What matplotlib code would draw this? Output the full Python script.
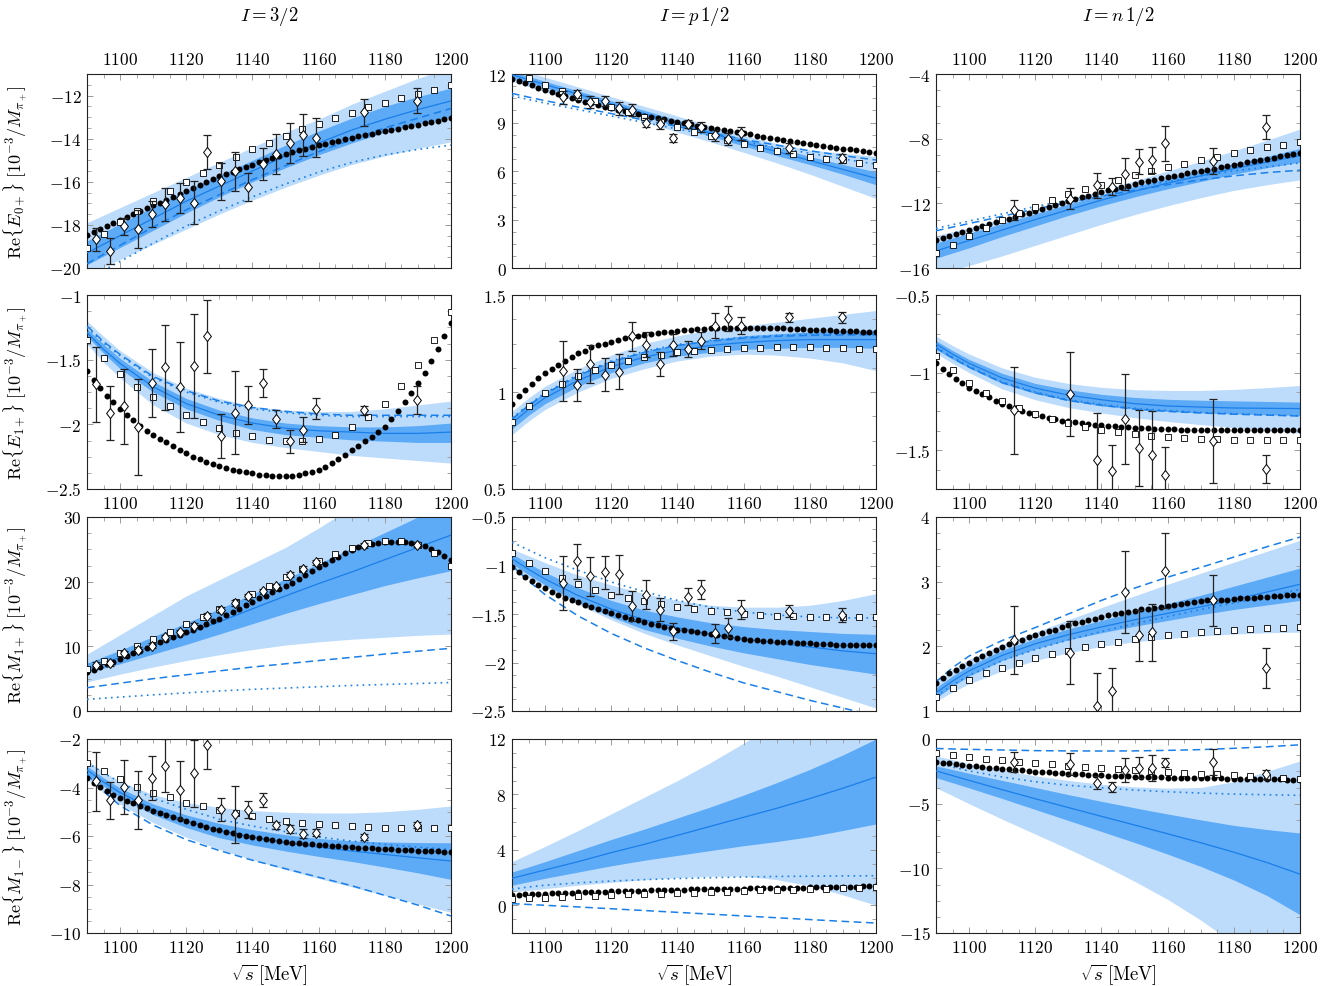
import matplotlib
matplotlib.use("Agg")
import matplotlib.pyplot as plt
import numpy as np
from matplotlib.path import Path
from matplotlib.ticker import AutoMinorLocator, FuncFormatter, MultipleLocator

plt.rcParams["mathtext.fontset"] = "cm"
plt.rcParams["font.family"] = ["DejaVu Serif"]

LIGHT = "#bddcfc"
DARK = "#5daaf7"
LINE = "#1a7fe8"

# energy grids (MeV)
X_BAND = [1090, 1095, 1100, 1110, 1120, 1130, 1140, 1150, 1160, 1170, 1180, 1190, 1200]
X_DOT = np.arange(1090, 1201, 2)
X_SQUARE = np.arange(1090, 1201, 5)
DIAMOND_E_32 = [1092.6, 1096.9, 1101.1, 1105.3, 1109.6, 1113.7, 1118.1, 1122.2, 1126.4, 1130.6,
                1134.8, 1138.8, 1143.1, 1147.0, 1151.2, 1155.2, 1159.1, 1173.8, 1189.7]
DIAMOND_E_P = [1105.3, 1109.6, 1113.7, 1118.1, 1122.2, 1126.4, 1130.6, 1134.8, 1138.8, 1143.1,
               1147.0, 1151.2, 1155.2, 1159.1, 1173.8, 1189.7]
DIAMOND_E_N = [1113.7, 1130.6, 1138.8, 1143.1, 1147.0, 1151.2, 1155.2, 1159.1, 1173.8, 1189.7]

# ---------------- Re{E0+}, I = 3/2 ----------------
E0_32_LIGHT_HI = [-17.9, -17.55, -17.2, -16.5, -15.8, -15.1, -14.4, -13.7, -13.1, -12.4, -11.8, -11.2, -10.7]
E0_32_LIGHT_LO = [-20.3, -19.95, -19.6, -18.9, -18.2, -17.5, -16.85, -16.25, -15.7, -15.2, -14.8, -14.45, -14.15]
E0_32_DARK_HI = [-18.75, -18.35, -17.95, -17.15, -16.4, -15.7, -15.0, -14.3, -13.65, -13.05, -12.5, -12.05, -11.65]
E0_32_DARK_LO = [-19.85, -19.45, -19.05, -18.25, -17.45, -16.7, -16.0, -15.35, -14.75, -14.2, -13.7, -13.3, -13.0]
E0_32_SOLID = [-19.3, -18.9, -18.5, -17.7, -16.9, -16.2, -15.5, -14.8, -14.2, -13.6, -13.1, -12.65, -12.25]
E0_32_DASHED = [-19.8, -19.37, -18.95, -18.1, -17.3, -16.6, -15.9, -15.25, -14.6, -14.05, -13.5, -13.05, -12.6]
E0_32_DOTTED = [-20.5, -20.1, -19.7, -18.85, -18.05, -17.35, -16.7, -16.1, -15.55, -15.1, -14.75, -14.5, -14.3]
E0_32_DOTS = [-18.48, -18.33, -18.19, -18.04, -17.90, -17.75, -17.62, -17.49, -17.36, -17.23,
              -17.10, -16.97, -16.84, -16.71, -16.58, -16.45, -16.31, -16.17, -16.03, -15.89,
              -15.75, -15.64, -15.53, -15.42, -15.31, -15.20, -15.10, -15.00, -14.90, -14.80,
              -14.70, -14.62, -14.54, -14.46, -14.38, -14.30, -14.23, -14.16, -14.09, -14.02,
              -13.95, -13.89, -13.83, -13.77, -13.71, -13.65, -13.59, -13.53, -13.47, -13.41,
              -13.35, -13.29, -13.23, -13.17, -13.11, -13.05]
E0_32_SQUARES = [-19.06, -18.43, -17.86, -17.37, -16.88, -16.41, -15.99, -15.58, -15.21, -14.85,
                 -14.49, -14.18, -13.87, -13.57, -13.31, -13.03, -12.81, -12.55, -12.33, -12.12,
                 -11.91, -11.72, -11.53]
E0_32_DIAMOND = [-18.67, -19.23, -18.07, -18.2, -17.48, -17.05, -16.77, -16.98, -14.63, -15.97,
                 -15.52, -16.24, -15.18, -14.71, -14.21, -13.84, -13.95, -12.78, -12.25]
E0_32_ERR = [0.52, 0.6, 0.41, 0.89, 0.6, 0.78, 0.7, 1.0, 0.8, 0.86,
             0.89, 0.63, 0.74, 0.94, 0.94, 0.97, 0.91, 0.62, 0.58]

# ---------------- Re{E0+}, I = p 1/2 ----------------
E0_P_LIGHT_HI = [12.4, 12.1, 11.8, 11.2, 10.6, 10.0, 9.4, 8.8, 8.2, 7.7, 7.3, 7.1, 6.9]
E0_P_LIGHT_LO = [11.55, 11.22, 10.9, 10.3, 9.7, 9.05, 8.4, 7.8, 7.15, 6.5, 5.8, 5.05, 4.3]
E0_P_DARK_HI = [12.15, 11.85, 11.55, 10.95, 10.35, 9.75, 9.15, 8.55, 8.0, 7.45, 6.9, 6.4, 5.95]
E0_P_DARK_LO = [11.75, 11.45, 11.15, 10.55, 9.95, 9.35, 8.75, 8.15, 7.55, 6.95, 6.4, 5.8, 5.15]
E0_P_SOLID = [11.95, 11.65, 11.35, 10.75, 10.15, 9.55, 8.95, 8.35, 7.75, 7.2, 6.65, 6.1, 5.55]
E0_P_DASHED = [10.8, 10.57, 10.35, 9.95, 9.55, 9.15, 8.75, 8.35, 7.95, 7.6, 7.25, 6.95, 6.68]
E0_P_DOTTED = [10.65, 10.42, 10.2, 9.8, 9.4, 9.0, 8.6, 8.2, 7.82, 7.45, 7.1, 6.75, 6.42]
E0_P_DOTS = [11.69, 11.56, 11.43, 11.29, 11.16, 11.03, 10.90, 10.77, 10.65, 10.52,
             10.39, 10.28, 10.18, 10.08, 9.97, 9.87, 9.78, 9.69, 9.59, 9.50,
             9.41, 9.34, 9.26, 9.19, 9.11, 9.04, 8.96, 8.88, 8.81, 8.73,
             8.65, 8.58, 8.52, 8.45, 8.39, 8.32, 8.26, 8.19, 8.13, 8.06,
             8.00, 7.93, 7.86, 7.80, 7.73, 7.66, 7.61, 7.55, 7.50, 7.44,
             7.39, 7.34, 7.29, 7.24, 7.19, 7.14]
E0_P_SQUARES = [np.nan, 11.73, 11.32, 10.92, 10.6, 10.3, 9.97, 9.68, 9.37, 9.07,
                8.75, 8.44, 8.17, 7.9, 7.66, 7.45, 7.24, 7.08, 6.89, 6.77,
                6.65, 6.52, 6.39]
E0_P_DIAMOND = [10.55, 10.76, 10.28, 10.35, 9.87, 9.77, 9.0, 8.9, 8.03, 8.9,
                8.73, 8.21, 7.97, 8.34, 7.41, 6.79]
E0_P_ERR = [0.41, 0.25, 0.36, 0.3, 0.41, 0.35, 0.3, 0.31, 0.26, 0.26,
            0.33, 0.34, 0.39, 0.41, 0.31, 0.28]

# ---------------- Re{E0+}, I = n 1/2 ----------------
E0_N_LIGHT_HI = [-14.0, -13.75, -13.5, -12.95, -12.35, -11.75, -11.2, -10.6, -10.0, -9.4, -8.75, -8.1, -7.4]
E0_N_LIGHT_LO = [-16.4, -16.12, -15.85, -15.25, -14.6, -13.95, -13.3, -12.7, -12.15, -11.65, -11.2, -10.85, -10.55]
E0_N_DARK_HI = [-14.45, -14.15, -13.85, -13.25, -12.65, -12.05, -11.5, -10.95, -10.45, -10.0, -9.55, -9.1, -8.6]
E0_N_DARK_LO = [-15.4, -15.07, -14.75, -14.05, -13.4, -12.75, -12.15, -11.6, -11.1, -10.65, -10.2, -9.8, -9.45]
E0_N_SOLID = [-14.95, -14.62, -14.3, -13.65, -13.0, -12.4, -11.8, -11.25, -10.75, -10.3, -9.85, -9.45, -9.05]
E0_N_DASHED = [-13.7, -13.47, -13.25, -12.8, -12.35, -11.95, -11.55, -11.2, -10.85, -10.55, -10.3, -10.1, -9.95]
E0_N_DOTTED = [-13.55, -13.32, -13.1, -12.65, -12.2, -11.8, -11.4, -11.0, -10.65, -10.3, -10.0, -9.75, -9.5]
E0_N_DOTS = [-14.24, -14.12, -14.01, -13.89, -13.78, -13.66, -13.54, -13.42, -13.30, -13.18,
             -13.06, -12.94, -12.82, -12.69, -12.57, -12.45, -12.33, -12.21, -12.09, -11.97,
             -11.85, -11.74, -11.63, -11.52, -11.41, -11.30, -11.20, -11.10, -11.00, -10.90,
             -10.80, -10.71, -10.63, -10.54, -10.46, -10.37, -10.30, -10.22, -10.15, -10.07,
             -10.00, -9.92, -9.85, -9.77, -9.70, -9.62, -9.55, -9.47, -9.40, -9.32,
             -9.25, -9.18, -9.10, -9.03, -8.95, -8.88]
E0_N_SQUARES = [-15.07, -14.55, -14.03, -13.52, -13.06, -12.59, -12.21, -11.82, -11.45, -11.14,
                -10.85, -10.54, -10.27, -10.0, -9.75, -9.55, -9.32, -9.11, -8.9, -8.7,
                -8.51, -8.37, -8.18]
E0_N_DIAMOND = [-12.44, -11.72, -10.89, -10.97, -10.2, -9.42, -9.32, -8.28, -9.38, -7.27]
E0_N_ERR = [0.62, 0.65, 0.75, 0.54, 0.98, 0.78, 0.83, 1.09, 0.8, 0.72]

# ---------------- Re{E1+}, I = 3/2 ----------------
E1_32_LIGHT_HI = [-1.2, -1.32, -1.43, -1.6, -1.72, -1.8, -1.86, -1.89, -1.9, -1.9, -1.88, -1.85, -1.82]
E1_32_LIGHT_LO = [-1.38, -1.52, -1.64, -1.85, -1.99, -2.08, -2.14, -2.18, -2.21, -2.24, -2.26, -2.28, -2.3]
E1_32_DARK_HI = [-1.26, -1.38, -1.49, -1.67, -1.8, -1.89, -1.95, -1.99, -2.01, -2.02, -2.02, -2.01, -1.99]
E1_32_DARK_LO = [-1.32, -1.45, -1.57, -1.75, -1.88, -1.97, -2.04, -2.08, -2.1, -2.12, -2.13, -2.14, -2.14]
E1_32_SOLID = [-1.29, -1.42, -1.53, -1.71, -1.84, -1.93, -1.99, -2.03, -2.05, -2.06, -2.07, -2.07, -2.06]
E1_32_DASHED = [-1.24, -1.36, -1.46, -1.63, -1.74, -1.82, -1.87, -1.9, -1.92, -1.93, -1.93, -1.93, -1.93]
E1_32_DOTTED = [-1.25, -1.37, -1.47, -1.64, -1.75, -1.83, -1.88, -1.91, -1.93, -1.94, -1.94, -1.94, -1.94]
E1_32_DOTS = [-1.59, -1.66, -1.72, -1.78, -1.83, -1.88, -1.93, -1.97, -2.01, -2.05,
              -2.08, -2.11, -2.14, -2.17, -2.20, -2.22, -2.25, -2.27, -2.29, -2.31,
              -2.32, -2.34, -2.35, -2.36, -2.37, -2.38, -2.39, -2.39, -2.40, -2.40,
              -2.40, -2.40, -2.39, -2.38, -2.37, -2.35, -2.33, -2.30, -2.27, -2.24,
              -2.20, -2.17, -2.13, -2.10, -2.06, -2.02, -1.96, -1.90, -1.83, -1.76,
              -1.68, -1.60, -1.51, -1.42, -1.32, -1.22]
E1_32_SQUARES = [-1.35, -1.49, -1.61, -1.71, -1.79, -1.86, -1.93, -1.98, -2.03, -2.07,
                 -2.09, -2.12, -2.13, -2.13, -2.11, -2.08, -2.02, -1.94, -1.84, -1.7,
                 -1.54, -1.35, -1.13]
E1_32_DIAMOND = [-1.69, -1.91, -1.86, -2.02, -1.68, -1.56, -1.71, -1.55, -1.32, -2.09,
                 -1.91, -1.85, -1.68, -1.96, -2.13, -2.04, -1.88, -1.89, -1.81]
E1_32_ERR = [0.29, 0.21, 0.29, 0.37, 0.26, 0.33, 0.35, 0.4, 0.28, 0.17,
             0.32, 0.15, 0.11, 0.07, 0.09, 0.1, 0.08, 0.035, 0.11]

# ---------------- Re{E1+}, I = p 1/2 ----------------
E1_P_LIGHT_HI = [0.9, 0.97, 1.03, 1.12, 1.19, 1.25, 1.29, 1.32, 1.34, 1.36, 1.38, 1.4, 1.42]
E1_P_LIGHT_LO = [0.78, 0.85, 0.91, 1.0, 1.07, 1.12, 1.16, 1.185, 1.195, 1.19, 1.175, 1.15, 1.11]
E1_P_DARK_HI = [0.87, 0.94, 1.0, 1.09, 1.16, 1.21, 1.245, 1.27, 1.29, 1.3, 1.31, 1.315, 1.32]
E1_P_DARK_LO = [0.81, 0.88, 0.94, 1.03, 1.1, 1.15, 1.185, 1.205, 1.22, 1.225, 1.23, 1.23, 1.225]
E1_P_SOLID = [0.84, 0.91, 0.97, 1.06, 1.13, 1.18, 1.215, 1.24, 1.255, 1.265, 1.27, 1.27, 1.27]
E1_P_DASHED = [0.86, 0.93, 0.99, 1.085, 1.155, 1.205, 1.24, 1.262, 1.277, 1.287, 1.292, 1.294, 1.295]
E1_P_DOTTED = [0.865, 0.935, 0.995, 1.09, 1.16, 1.21, 1.245, 1.267, 1.282, 1.292, 1.297, 1.299, 1.3]
E1_P_DOTS = [0.94, 0.98, 1.01, 1.04, 1.07, 1.10, 1.12, 1.14, 1.16, 1.18,
             1.20, 1.21, 1.23, 1.24, 1.25, 1.26, 1.27, 1.28, 1.285, 1.29,
             1.295, 1.30, 1.305, 1.31, 1.31, 1.315, 1.32, 1.32, 1.325, 1.325,
             1.33, 1.33, 1.33, 1.33, 1.33, 1.33, 1.33, 1.33, 1.33, 1.33,
             1.33, 1.33, 1.325, 1.325, 1.325, 1.32, 1.32, 1.32, 1.32, 1.315,
             1.315, 1.315, 1.315, 1.31, 1.31, 1.31]
E1_P_SQUARES = [0.847, 0.93, 0.993, 1.04, 1.08, 1.115, 1.14, 1.16, 1.18, 1.19,
                1.205, 1.21, 1.218, 1.22, 1.225, 1.228, 1.23, 1.23, 1.23, 1.228,
                1.227, 1.223, 1.22]
E1_P_DIAMOND = [1.11, 1.038, 1.144, 1.09, 1.105, 1.287, 1.244, 1.144, 1.244, 1.222,
                1.265, 1.342, 1.38, 1.342, 1.385, 1.385]
E1_P_ERR = [0.155, 0.083, 0.098, 0.084, 0.09, 0.076, 0.064, 0.064, 0.057, 0.043,
            0.043, 0.064, 0.063, 0.043, 0.022, 0.029]

# ---------------- Re{E1+}, I = n 1/2 ----------------
E1_N_LIGHT_HI = [-0.765, -0.826, -0.88, -0.97, -1.03, -1.07, -1.095, -1.11, -1.115, -1.115, -1.108, -1.097, -1.083]
E1_N_LIGHT_LO = [-0.875, -0.94, -1.0, -1.105, -1.175, -1.225, -1.26, -1.29, -1.315, -1.335, -1.355, -1.372, -1.39]
E1_N_DARK_HI = [-0.795, -0.858, -0.915, -1.005, -1.07, -1.11, -1.14, -1.16, -1.172, -1.178, -1.182, -1.186, -1.19]
E1_N_DARK_LO = [-0.85, -0.913, -0.97, -1.07, -1.135, -1.18, -1.215, -1.235, -1.25, -1.26, -1.266, -1.272, -1.276]
E1_N_SOLID = [-0.815, -0.881, -0.94, -1.035, -1.1, -1.145, -1.175, -1.2, -1.215, -1.222, -1.228, -1.23, -1.232]
E1_N_DASHED = [-0.84, -0.906, -0.965, -1.065, -1.13, -1.18, -1.21, -1.235, -1.25, -1.26, -1.268, -1.274, -1.28]
E1_N_DOTTED = [-0.835, -0.901, -0.96, -1.06, -1.125, -1.175, -1.205, -1.23, -1.245, -1.256, -1.265, -1.272, -1.278]
E1_N_DOTS = [-0.94, -0.975, -1.01, -1.04, -1.07, -1.10, -1.12, -1.14, -1.16, -1.18,
             -1.20, -1.215, -1.23, -1.245, -1.26, -1.27, -1.28, -1.29, -1.30, -1.31,
             -1.315, -1.32, -1.325, -1.33, -1.335, -1.34, -1.343, -1.346, -1.349, -1.352,
             -1.355, -1.357, -1.359, -1.361, -1.363, -1.365, -1.366, -1.367, -1.368, -1.369,
             -1.37, -1.37, -1.37, -1.37, -1.37, -1.37, -1.37, -1.37, -1.37, -1.37,
             -1.37, -1.369, -1.369, -1.368, -1.368, -1.367]
E1_N_SQUARES = [-0.894, -0.986, -1.067, -1.13, -1.185, -1.228, -1.267, -1.3, -1.327, -1.35,
                -1.367, -1.382, -1.395, -1.406, -1.414, -1.423, -1.427, -1.431, -1.434, -1.436,
                -1.436, -1.436, -1.436]
E1_N_DIAMOND = [-1.243, -1.14, -1.56, -1.635, -1.297, -1.485, -1.528, -1.66, -1.442, -1.622]
E1_N_ERR = [0.28, 0.27, 0.3, 0.17, 0.29, 0.245, 0.28, 0.18, 0.27, 0.09]

# ---------------- Re{M1+}, I = 3/2 ----------------
M1P_32_LIGHT_HI = [8.8, 10.3, 11.8, 14.8, 17.8, 20.3, 22.8, 25.3, 28.3, 31.5, 35.0, 38.0, 41.0]
M1P_32_LIGHT_LO = [4.5, 5.1, 5.7, 6.8, 7.8, 8.7, 9.5, 10.2, 10.7, 11.1, 11.4, 11.7, 11.9]
M1P_32_DARK_HI = [7.4, 8.4, 9.4, 11.5, 13.6, 15.8, 18.1, 20.4, 22.8, 25.2, 27.6, 30.0, 32.5]
M1P_32_DARK_LO = [5.9, 6.6, 7.3, 8.8, 10.3, 11.9, 13.5, 15.1, 16.6, 18.0, 19.4, 20.6, 21.7]
M1P_32_SOLID = [6.5, 7.4, 8.3, 10.1, 11.9, 13.8, 15.8, 17.8, 19.7, 21.5, 23.4, 25.3, 27.2]
M1P_32_DASHED = [3.6, 3.95, 4.3, 5.0, 5.6, 6.2, 6.8, 7.3, 7.8, 8.3, 8.8, 9.25, 9.7]
M1P_32_DOTTED = [1.8, 1.98, 2.15, 2.5, 2.8, 3.1, 3.35, 3.55, 3.75, 3.95, 4.1, 4.25, 4.4]
M1P_32_DOTS = [6.05, 6.40, 6.80, 7.20, 7.65, 8.10, 8.50, 8.90, 9.35, 9.80,
               10.20, 10.60, 11.00, 11.40, 11.80, 12.20, 12.60, 13.00, 13.40, 13.85,
               14.30, 14.80, 15.30, 15.85, 16.35, 16.90, 17.40, 17.85, 18.35, 18.80,
               19.30, 19.85, 20.45, 21.00, 21.60, 22.20, 22.75, 23.30, 23.85, 24.40,
               24.90, 25.30, 25.60, 25.85, 26.00, 26.10, 26.20, 26.20, 26.15, 26.00,
               25.80, 25.50, 25.10, 24.60, 24.00, 23.40]
M1P_32_SQUARES = [6.57, 7.66, 8.9, 10.09, 11.12, 12.26, 13.4, 14.54, 15.78, 16.92,
                  18.1, 19.4, 20.7, 22.0, 23.18, 24.3, 25.2, 26.0, 26.3, 26.3,
                  25.7, 24.5, 22.5]
M1P_32_DIAMOND = [7.14, 7.35, 8.9, 9.47, 10.1, 11.4, 12.16, 13.2, 14.74, 15.62,
                  16.7, 17.74, 18.52, 19.3, 21.06, 22.0, 23.0, 25.6, 25.7]
M1P_32_ERR = [0.4, 0.4, 0.4, 0.4, 0.4, 0.4, 0.4, 0.4, 0.4, 0.4,
              0.4, 0.4, 0.4, 0.4, 0.4, 0.4, 0.4, 0.4, 0.4]

# ---------------- Re{M1+}, I = p 1/2 ----------------
M1P_P_LIGHT_HI = [-0.83, -0.9, -0.97, -1.1, -1.2, -1.29, -1.36, -1.41, -1.43, -1.43, -1.41, -1.36, -1.29]
M1P_P_LIGHT_LO = [-1.03, -1.127, -1.22, -1.4, -1.56, -1.7, -1.82, -1.93, -2.04, -2.14, -2.25, -2.36, -2.47]
M1P_P_DARK_HI = [-0.88, -0.979, -1.07, -1.23, -1.36, -1.46, -1.53, -1.59, -1.63, -1.66, -1.68, -1.7, -1.71]
M1P_P_DARK_LO = [-0.98, -1.095, -1.2, -1.38, -1.53, -1.66, -1.75, -1.83, -1.9, -1.96, -2.02, -2.07, -2.12]
M1P_P_SOLID = [-0.93, -1.04, -1.14, -1.31, -1.45, -1.56, -1.64, -1.71, -1.76, -1.8, -1.84, -1.88, -1.91]
M1P_P_DASHED = [-1.0, -1.16, -1.3, -1.52, -1.7, -1.85, -1.98, -2.1, -2.21, -2.3, -2.39, -2.47, -2.55]
M1P_P_DOTTED = [-0.76, -0.84, -0.92, -1.05, -1.17, -1.27, -1.36, -1.43, -1.48, -1.51, -1.53, -1.54, -1.54]
M1P_P_DOTS = [-1.02, -1.07, -1.12, -1.16, -1.20, -1.23, -1.27, -1.30, -1.33, -1.36,
              -1.38, -1.41, -1.43, -1.45, -1.47, -1.49, -1.51, -1.53, -1.55, -1.56,
              -1.58, -1.60, -1.61, -1.63, -1.64, -1.66, -1.67, -1.68, -1.69, -1.70,
              -1.71, -1.72, -1.73, -1.74, -1.75, -1.76, -1.765, -1.77, -1.775, -1.78,
              -1.785, -1.79, -1.79, -1.795, -1.80, -1.80, -1.805, -1.81, -1.81, -1.815,
              -1.815, -1.82, -1.82, -1.82, -1.82, -1.82]
M1P_P_SQUARES = [-0.87, -0.97, -1.06, -1.13, -1.19, -1.25, -1.3, -1.34, -1.37, -1.4,
                 -1.43, -1.45, -1.47, -1.48, -1.5, -1.51, -1.52, -1.52, -1.53, -1.53,
                 -1.53, -1.53, -1.53]
M1P_P_DIAMOND = [-1.18, -0.955, -1.11, -1.07, -1.09, -1.42, -1.3, -1.455, -1.68, -1.32,
                 -1.25, -1.7, -1.64, -1.455, -1.47, -1.51]
M1P_P_ERR = [0.28, 0.18, 0.2, 0.17, 0.2, 0.155, 0.15, 0.115, 0.09, 0.09,
             0.1, 0.1, 0.1, 0.1, 0.06, 0.075]

# ---------------- Re{M1+}, I = n 1/2 ----------------
M1P_N_LIGHT_HI = [1.44, 1.64, 1.8, 2.03, 2.22, 2.41, 2.6, 2.78, 2.96, 3.13, 3.3, 3.47, 3.64]
M1P_N_LIGHT_LO = [1.15, 1.294, 1.42, 1.62, 1.78, 1.9, 2.0, 2.07, 2.12, 2.16, 2.19, 2.21, 2.22]
M1P_N_DARK_HI = [1.36, 1.543, 1.7, 1.94, 2.12, 2.27, 2.4, 2.53, 2.66, 2.79, 2.93, 3.07, 3.21]
M1P_N_DARK_LO = [1.2, 1.383, 1.54, 1.78, 1.96, 2.1, 2.21, 2.31, 2.4, 2.49, 2.57, 2.64, 2.71]
M1P_N_SOLID = [1.28, 1.463, 1.62, 1.86, 2.04, 2.18, 2.3, 2.41, 2.51, 2.61, 2.72, 2.84, 2.96]
M1P_N_DASHED = [1.45, 1.67, 1.85, 2.09, 2.29, 2.5, 2.71, 2.9, 3.07, 3.22, 3.38, 3.54, 3.69]
M1P_N_DOTTED = [1.23, 1.4, 1.55, 1.78, 1.95, 2.1, 2.23, 2.35, 2.46, 2.57, 2.67, 2.77, 2.88]
M1P_N_DOTS = [1.44, 1.51, 1.58, 1.64, 1.70, 1.75, 1.80, 1.85, 1.90, 1.95,
              1.99, 2.03, 2.07, 2.10, 2.14, 2.17, 2.20, 2.23, 2.26, 2.30,
              2.33, 2.36, 2.38, 2.41, 2.43, 2.46, 2.48, 2.50, 2.52, 2.53,
              2.55, 2.57, 2.58, 2.60, 2.61, 2.63, 2.64, 2.66, 2.67, 2.69,
              2.70, 2.71, 2.71, 2.72, 2.72, 2.73, 2.74, 2.75, 2.75, 2.76,
              2.77, 2.78, 2.78, 2.79, 2.79, 2.80]
M1P_N_SQUARES = [1.21, 1.35, 1.48, 1.58, 1.67, 1.75, 1.82, 1.88, 1.93, 1.99,
                 2.03, 2.07, 2.11, 2.14, 2.17, 2.19, 2.22, 2.23, 2.25, 2.27,
                 2.28, 2.29, 2.3]
M1P_N_DIAMOND = [2.1, 1.9, 1.08, 1.31, 2.84, 2.17, 2.22, 3.17, 2.71, 1.66]
M1P_N_ERR = [0.53, 0.49, 0.5, 0.35, 0.63, 0.39, 0.44, 0.58, 0.39, 0.31]

# ---------------- Re{M1-}, I = 3/2 ----------------
M1M_32_LIGHT_HI = [-2.9, -3.36, -3.75, -4.3, -4.62, -4.82, -4.95, -5.02, -5.05, -5.05, -5.0, -4.9, -4.76]
M1M_32_LIGHT_LO = [-3.66, -4.21, -4.69, -5.45, -6.05, -6.55, -6.98, -7.38, -7.75, -8.1, -8.45, -8.8, -9.15]
M1M_32_DARK_HI = [-3.12, -3.6, -4.02, -4.68, -5.13, -5.48, -5.74, -5.95, -6.1, -6.2, -6.25, -6.27, -6.28]
M1M_32_DARK_LO = [-3.45, -3.95, -4.4, -5.12, -5.65, -6.07, -6.37, -6.62, -6.84, -7.05, -7.28, -7.52, -7.79]
M1M_32_SOLID = [-3.28, -3.775, -4.21, -4.9, -5.38, -5.77, -6.04, -6.28, -6.46, -6.62, -6.76, -6.9, -7.03]
M1M_32_DASHED = [-3.45, -4.16, -4.75, -5.55, -6.15, -6.6, -7.0, -7.35, -7.7, -8.05, -8.45, -8.85, -9.3]
M1M_32_DOTTED = [-2.97, -3.4, -3.79, -4.44, -4.9, -5.31, -5.59, -5.82, -6.04, -6.21, -6.34, -6.46, -6.55]
M1M_32_DOTS = [-3.61, -3.82, -3.99, -4.14, -4.29, -4.42, -4.54, -4.65, -4.76, -4.86,
               -4.96, -5.05, -5.14, -5.22, -5.30, -5.38, -5.46, -5.54, -5.62, -5.70,
               -5.77, -5.83, -5.89, -5.95, -6.01, -6.06, -6.10, -6.14, -6.18, -6.22,
               -6.26, -6.28, -6.30, -6.33, -6.35, -6.37, -6.39, -6.41, -6.43, -6.45,
               -6.47, -6.48, -6.50, -6.51, -6.53, -6.54, -6.55, -6.56, -6.58, -6.59,
               -6.60, -6.61, -6.62, -6.63, -6.64, -6.65]
M1M_32_SQUARES = [-2.97, -3.34, -3.66, -3.97, -4.21, -4.41, -4.62, -4.77, -4.94, -5.06,
                  -5.17, -5.28, -5.38, -5.45, -5.52, -5.56, -5.6, -5.63, -5.66, -5.66,
                  -5.66, -5.67, -5.67]
M1M_32_DIAMOND = [-3.75, -4.52, -3.97, -4.52, -3.61, -3.1, -4.11, -3.42, -2.25, -4.9,
                  -5.1, -4.91, -4.52, -5.56, -5.7, -5.9, -5.86, -6.04, -5.56]
M1M_32_ERR = [1.2, 0.76, 1.12, 1.2, 0.9, 1.1, 1.2, 1.38, 1.0, 0.48,
              1.17, 0.34, 0.3, 0.15, 0.17, 0.17, 0.14, 0.14, 0.12]

# ---------------- Re{M1-}, I = p 1/2 ----------------
M1M_P_LIGHT_HI = [3.15, 3.7, 4.25, 5.4, 6.6, 7.8, 9.0, 10.3, 11.7, 13.2, 14.8, 16.5, 18.3]
M1M_P_LIGHT_LO = [0.97, 1.08, 1.2, 1.45, 1.65, 1.85, 2.0, 2.1, 2.1, 1.85, 1.4, 0.75, 0.0]
M1M_P_DARK_HI = [2.4, 2.77, 3.15, 3.95, 4.75, 5.5, 6.3, 7.1, 7.95, 8.85, 9.8, 10.85, 12.0]
M1M_P_DARK_LO = [1.45, 1.7, 1.95, 2.4, 2.85, 3.25, 3.6, 3.95, 4.3, 4.6, 4.95, 5.4, 5.87]
M1M_P_SOLID = [1.95, 2.25, 2.55, 3.15, 3.8, 4.4, 5.05, 5.7, 6.35, 7.0, 7.7, 8.45, 9.25]
M1M_P_DASHED = [0.12, 0.06, 0.0, -0.12, -0.25, -0.38, -0.51, -0.64, -0.77, -0.9, -1.03, -1.16, -1.28]
M1M_P_DOTTED = [1.16, 1.32, 1.45, 1.62, 1.75, 1.85, 1.93, 1.99, 2.04, 2.08, 2.1, 2.12, 2.13]
M1M_P_DOTS = [0.73, 0.76, 0.78, 0.80, 0.83, 0.85, 0.87, 0.88, 0.90, 0.91,
              0.93, 0.94, 0.96, 0.97, 0.99, 1.00, 1.01, 1.02, 1.04, 1.05,
              1.06, 1.07, 1.08, 1.10, 1.11, 1.12, 1.13, 1.14, 1.15, 1.16,
              1.17, 1.18, 1.19, 1.19, 1.20, 1.21, 1.22, 1.23, 1.23, 1.24,
              1.25, 1.26, 1.27, 1.27, 1.28, 1.29, 1.30, 1.31, 1.31, 1.32,
              1.33, 1.34, 1.35, 1.36, 1.37, 1.38]
M1M_P_SQUARES = [0.44, 0.53, 0.56, 0.58, 0.68, 0.68, 0.75, 0.78, 0.82, 0.85,
                 0.9, 0.92, 0.97, 0.99, 1.02, 1.07, 1.09, 1.12, 1.16, 1.19,
                 1.24, 1.26, 1.31]

# ---------------- Re{M1-}, I = n 1/2 ----------------
M1M_N_LIGHT_HI = [-1.3, -1.6, -1.9, -2.4, -2.85, -3.2, -3.5, -3.7, -3.8, -3.75, -3.3, -2.5, -1.7]
M1M_N_LIGHT_LO = [-3.77, -4.38, -5.0, -6.2, -7.35, -8.5, -9.7, -11.0, -12.4, -14.0, -15.8, -17.7, -19.6]
M1M_N_DARK_HI = [-2.08, -2.36, -2.65, -3.2, -3.75, -4.3, -4.82, -5.32, -5.8, -6.25, -6.68, -7.0, -7.27]
M1M_N_DARK_LO = [-2.99, -3.38, -3.78, -4.6, -5.45, -6.3, -7.15, -8.0, -8.9, -9.85, -10.9, -12.1, -13.58]
M1M_N_SOLID = [-2.47, -2.83, -3.2, -3.92, -4.62, -5.3, -5.98, -6.65, -7.33, -8.02, -8.75, -9.55, -10.45]
M1M_N_DASHED = [-0.73, -0.77, -0.8, -0.85, -0.9, -0.92, -0.93, -0.92, -0.88, -0.82, -0.72, -0.6, -0.45]
M1M_N_DOTTED = [-1.82, -2.17, -2.47, -2.94, -3.3, -3.58, -3.77, -3.95, -4.08, -4.18, -4.26, -4.31, -4.36]
M1M_N_DOTS = [-1.74, -1.82, -1.89, -1.96, -2.02, -2.08, -2.12, -2.16, -2.21, -2.25,
              -2.29, -2.34, -2.38, -2.43, -2.47, -2.52, -2.55, -2.58, -2.62, -2.65,
              -2.68, -2.71, -2.73, -2.76, -2.78, -2.81, -2.83, -2.85, -2.87, -2.89,
              -2.91, -2.93, -2.94, -2.96, -2.97, -2.99, -3.00, -3.01, -3.02, -3.03,
              -3.04, -3.04, -3.05, -3.05, -3.06, -3.06, -3.07, -3.08, -3.09, -3.10,
              -3.11, -3.12, -3.13, -3.14, -3.15, -3.16]
M1M_N_SQUARES = [-1.09, -1.25, -1.38, -1.51, -1.64, -1.74, -1.87, -1.97, -2.05, -2.13,
                 -2.21, -2.29, -2.36, -2.45, -2.55, -2.62, -2.68, -2.73, -2.81, -2.88,
                 -2.94, -3.04, -3.12]
M1M_N_DIAMOND = [-1.77, -1.9, -3.38, -3.71, -2.39, -2.21, -2.26, -1.82, -1.77, -2.73]
M1M_N_ERR = [0.8, 0.85, 0.5, 0.42, 0.9, 0.83, 1.0, 0.36, 1.0, 0.33]

COLUMN_TITLES = [r"$I = 3/2$", r"$I = p\,1/2$", r"$I = n\,1/2$"]
ROW_LABELS = [r"$\mathrm{Re}\{E_{0+}\}\;[10^{-3}/M_{\pi_+}]$",
              r"$\mathrm{Re}\{E_{1+}\}\;[10^{-3}/M_{\pi_+}]$",
              r"$\mathrm{Re}\{M_{1+}\}\;[10^{-3}/M_{\pi_+}]$",
              r"$\mathrm{Re}\{M_{1-}\}\;[10^{-3}/M_{\pi_+}]$"]


def panel(light_lo, light_hi, dark_lo, dark_hi, solid, dashed, dotted, dots, squares,
          ylim, ystep, diamond_e=None, diamond=None, err=None):
    return dict(light=(light_lo, light_hi), dark=(dark_lo, dark_hi), solid=solid, dashed=dashed,
                dotted=dotted, dots=dots, squares=squares, ylim=ylim, ystep=ystep,
                diamond_e=diamond_e, diamond=diamond, err=err)


PANELS = [
    [panel(E0_32_LIGHT_LO, E0_32_LIGHT_HI, E0_32_DARK_LO, E0_32_DARK_HI, E0_32_SOLID, E0_32_DASHED,
           E0_32_DOTTED, E0_32_DOTS, E0_32_SQUARES, (-20, -11), 2, DIAMOND_E_32, E0_32_DIAMOND, E0_32_ERR),
     panel(E0_P_LIGHT_LO, E0_P_LIGHT_HI, E0_P_DARK_LO, E0_P_DARK_HI, E0_P_SOLID, E0_P_DASHED,
           E0_P_DOTTED, E0_P_DOTS, E0_P_SQUARES, (0, 12), 3, DIAMOND_E_P, E0_P_DIAMOND, E0_P_ERR),
     panel(E0_N_LIGHT_LO, E0_N_LIGHT_HI, E0_N_DARK_LO, E0_N_DARK_HI, E0_N_SOLID, E0_N_DASHED,
           E0_N_DOTTED, E0_N_DOTS, E0_N_SQUARES, (-16, -4), 4, DIAMOND_E_N, E0_N_DIAMOND, E0_N_ERR)],
    [panel(E1_32_LIGHT_LO, E1_32_LIGHT_HI, E1_32_DARK_LO, E1_32_DARK_HI, E1_32_SOLID, E1_32_DASHED,
           E1_32_DOTTED, E1_32_DOTS, E1_32_SQUARES, (-2.5, -1), 0.5, DIAMOND_E_32, E1_32_DIAMOND, E1_32_ERR),
     panel(E1_P_LIGHT_LO, E1_P_LIGHT_HI, E1_P_DARK_LO, E1_P_DARK_HI, E1_P_SOLID, E1_P_DASHED,
           E1_P_DOTTED, E1_P_DOTS, E1_P_SQUARES, (0.5, 1.5), 0.5, DIAMOND_E_P, E1_P_DIAMOND, E1_P_ERR),
     panel(E1_N_LIGHT_LO, E1_N_LIGHT_HI, E1_N_DARK_LO, E1_N_DARK_HI, E1_N_SOLID, E1_N_DASHED,
           E1_N_DOTTED, E1_N_DOTS, E1_N_SQUARES, (-1.75, -0.5), 0.5, DIAMOND_E_N, E1_N_DIAMOND, E1_N_ERR)],
    [panel(M1P_32_LIGHT_LO, M1P_32_LIGHT_HI, M1P_32_DARK_LO, M1P_32_DARK_HI, M1P_32_SOLID, M1P_32_DASHED,
           M1P_32_DOTTED, M1P_32_DOTS, M1P_32_SQUARES, (0, 30), 10, DIAMOND_E_32, M1P_32_DIAMOND, M1P_32_ERR),
     panel(M1P_P_LIGHT_LO, M1P_P_LIGHT_HI, M1P_P_DARK_LO, M1P_P_DARK_HI, M1P_P_SOLID, M1P_P_DASHED,
           M1P_P_DOTTED, M1P_P_DOTS, M1P_P_SQUARES, (-2.5, -0.5), 0.5, DIAMOND_E_P, M1P_P_DIAMOND, M1P_P_ERR),
     panel(M1P_N_LIGHT_LO, M1P_N_LIGHT_HI, M1P_N_DARK_LO, M1P_N_DARK_HI, M1P_N_SOLID, M1P_N_DASHED,
           M1P_N_DOTTED, M1P_N_DOTS, M1P_N_SQUARES, (1, 4), 1, DIAMOND_E_N, M1P_N_DIAMOND, M1P_N_ERR)],
    [panel(M1M_32_LIGHT_LO, M1M_32_LIGHT_HI, M1M_32_DARK_LO, M1M_32_DARK_HI, M1M_32_SOLID, M1M_32_DASHED,
           M1M_32_DOTTED, M1M_32_DOTS, M1M_32_SQUARES, (-10, -2), 2, DIAMOND_E_32, M1M_32_DIAMOND, M1M_32_ERR),
     panel(M1M_P_LIGHT_LO, M1M_P_LIGHT_HI, M1M_P_DARK_LO, M1M_P_DARK_HI, M1M_P_SOLID, M1M_P_DASHED,
           M1M_P_DOTTED, M1M_P_DOTS, M1M_P_SQUARES, (-2, 12), 4),
     panel(M1M_N_LIGHT_LO, M1M_N_LIGHT_HI, M1M_N_DARK_LO, M1M_N_DARK_HI, M1M_N_SOLID, M1M_N_DASHED,
           M1M_N_DOTTED, M1M_N_DOTS, M1M_N_SQUARES, (-15, 0), 5, DIAMOND_E_N, M1M_N_DIAMOND, M1M_N_ERR)],
]

FIG_W, FIG_H = 1343, 987
COL_LEFT = [87, 512, 936]
COL_W = 364
ROW_TOP = [75, 296, 518, 740]
ROW_H = 194
TICK_FS = 12.5

# diamond a bit wider than matplotlib's thin diamond
DIAMOND = Path([(0, 1), (0.78, 0), (0, -1), (-0.78, 0), (0, 1)],
               [Path.MOVETO, Path.LINETO, Path.LINETO, Path.LINETO, Path.CLOSEPOLY])


def math_fmt(value, _pos):
    return f"${value:g}$"


def draw_panel(ax, spec):
    ax.fill_between(X_BAND, *spec["light"], color=LIGHT, lw=0, zorder=1)
    ax.fill_between(X_BAND, *spec["dark"], color=DARK, lw=0, zorder=2)
    ax.plot(X_BAND, spec["solid"], color=LINE, lw=0.9, zorder=3)
    ax.plot(X_BAND, spec["dashed"], color=LINE, lw=1.1, dashes=(5, 3), zorder=3)
    ax.plot(X_BAND, spec["dotted"], color=LINE, lw=1.2, dashes=(1, 2.6), zorder=3)
    ax.plot(X_DOT, spec["dots"], "o", ms=4.3, mfc="black", mec="black", mew=0, zorder=4)
    ax.plot(X_SQUARE, spec["squares"], "s", ms=4.3, mfc="white", mec="black", mew=0.6, zorder=5)
    if spec["diamond"] is not None:
        ax.errorbar(spec["diamond_e"], spec["diamond"], yerr=spec["err"], fmt="none",
                    ecolor="#222222", elinewidth=0.9, capsize=3.2, capthick=0.9, zorder=6)
        ax.plot(spec["diamond_e"], spec["diamond"], marker=DIAMOND, ls="none", ms=7.2,
                mfc="white", mec="black", mew=0.7, zorder=7)

    ax.set_xlim(1090, 1200)
    ax.set_ylim(*spec["ylim"])
    ax.xaxis.set_major_locator(MultipleLocator(20))
    ax.xaxis.set_minor_locator(MultipleLocator(5))
    ax.yaxis.set_major_locator(MultipleLocator(spec["ystep"]))
    ax.yaxis.set_minor_locator(AutoMinorLocator(4))
    ax.xaxis.set_major_formatter(FuncFormatter(math_fmt))
    ax.yaxis.set_major_formatter(FuncFormatter(math_fmt))
    ax.tick_params(which="both", direction="in", top=True, right=True, color="#9a9a9a",
                   labelsize=TICK_FS, pad=4)
    ax.tick_params(which="major", length=4.5, width=0.7)
    ax.tick_params(which="minor", length=2.8, width=0.6)
    for spine in ax.spines.values():
        spine.set_linewidth(0.8)
        spine.set_color("#222222")


fig = plt.figure(figsize=(FIG_W / 100, FIG_H / 100), dpi=100)

for r in range(4):
    for c in range(3):
        rect = [COL_LEFT[c] / FIG_W, (FIG_H - ROW_TOP[r] - ROW_H) / FIG_H, COL_W / FIG_W, ROW_H / FIG_H]
        ax = fig.add_axes(rect)
        draw_panel(ax, PANELS[r][c])
        if r == 0:
            ax.tick_params(labeltop=True, labelbottom=False)
        elif r == 1 or r == 3:
            ax.tick_params(labeltop=False, labelbottom=True)
        else:
            ax.tick_params(labeltop=False, labelbottom=False)
        if c == 0:
            ax.set_ylabel(ROW_LABELS[r], fontsize=13)
            ax.yaxis.set_label_coords(-0.16, 0.5)

for c in range(3):
    xc = (COL_LEFT[c] + COL_W / 2) / FIG_W
    fig.text(xc, 1 - 17 / FIG_H, COLUMN_TITLES[c], ha="center", va="center", fontsize=13.5)
    fig.text(xc, 1 - 975 / FIG_H, r"$\sqrt{s}\,[\mathrm{MeV}]$", ha="center", va="center", fontsize=13.5)

fig.savefig("out.png", dpi=100)
